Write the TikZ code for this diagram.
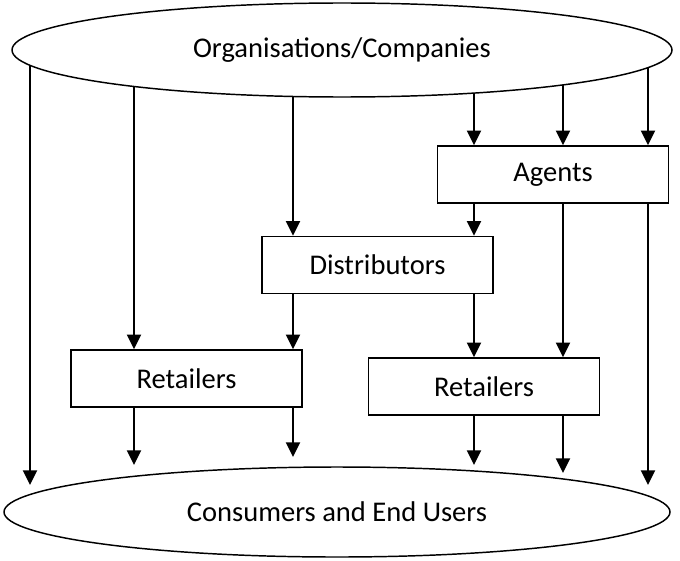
\documentclass[tikz,border=0pt]{standalone}
\usepackage{fontspec}
\setmainfont{Carlito}
\usepackage{tikz}
\usetikzlibrary{arrows.meta}
\usetikzlibrary{backgrounds}
\usetikzlibrary{shapes.geometric}
\tikzstyle{endnode}=[black, draw=black, line width=1.1pt, shape=ellipse, fill=white, inner sep=0pt, font=\fontsize{21.4}{25}\selectfont]
\tikzstyle{midnode}=[black, draw=black, line width=1.2pt, shape=rectangle, fill=white, minimum width=173.5pt, minimum height=42.75pt, inner sep=0pt, font=\fontsize{21.4}{25}\selectfont]
\tikzstyle{flow}=[-{Triangle[length=11pt, width=10.5pt]}, line width=1.6pt, color=black]

\begin{document}
\begin{tikzpicture}[x=0.75pt, y=-0.75pt]
\useasboundingbox (0,0) rectangle (680,560);
\node [endnode, minimum width=495pt, minimum height=70.5pt] (org) at (342,50) {Organisations/Companies};
\node [endnode, minimum width=499.5pt, minimum height=67.5pt] (cons) at (337,512) {Consumers and End Users};
\node [midnode] (agents) at (553,174.5) {Agents};
\node [midnode] (dist) at (377.5,265) {Distributors};
\node [midnode] (retL) at (186.5,378.5) {Retailers};
\node [midnode] (retR) at (484,386.5) {Retailers};

% arrow ends above the consumers
\coordinate (tipA) at (30,485);
\coordinate (tipB) at (134,465);
\coordinate (tipC) at (293,457);
\coordinate (tipD) at (474,465);
\coordinate (tipE) at (563,473);
\coordinate (tipF) at (648,485);

% from the organisations (hidden under the ellipse fill)
\begin{pgfonlayer}{background}
\draw[flow] (org.center -| tipA) -- (tipA);
\draw[flow] (org.center -| tipB) -- (retL.north -| tipB);
\draw[flow] (org.center -| tipC) -- (dist.north -| tipC);
\draw[flow] (org.center -| tipD) -- (agents.north -| tipD);
\draw[flow] (org.center -| tipE) -- (agents.north -| tipE);
\draw[flow] (org.center -| tipF) -- (agents.north -| tipF);
\end{pgfonlayer}

\draw[flow] (agents.south -| tipD) -- (dist.north -| tipD);
\draw[flow] (agents.south -| tipE) -- (retR.north -| tipE);
\draw[flow] (agents.south -| tipF) -- (tipF);
\draw[flow] (dist.south -| tipC) -- (retL.north -| tipC);
\draw[flow] (dist.south -| tipD) -- (retR.north -| tipD);
\draw[flow] (retL.south -| tipB) -- (tipB);
\draw[flow] (retL.south -| tipC) -- (tipC);
\draw[flow] (retR.south -| tipD) -- (tipD);
\draw[flow] (retR.south -| tipE) -- (tipE);
\end{tikzpicture}
\end{document}
